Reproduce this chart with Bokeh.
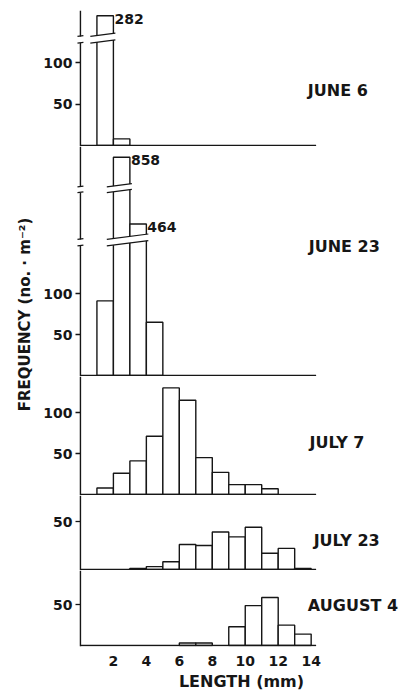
import numpy as np
from bokeh.plotting import figure
from bokeh.models import Range1d, FixedTicker, Label, ColumnDataSource
from bokeh.layouts import row, column
from bokeh.embed import file_html
from bokeh.resources import INLINE
from bokeh.core.properties import value

# ---------------- data ----------------
BIN_LEFT = list(range(0, 14))            # 1-mm length classes (left edges, mm)
DATES = ["JUNE 6", "JUNE 23", "JULY 7", "JULY 23", "AUGUST 4"]
JUNE_6   = [0, 282,   8,   0,  0,   0,   0,  0,  0,  0,  0,  0,  0,  0]
JUNE_23  = [0,  91, 858, 464, 65,   0,   0,  0,  0,  0,  0,  0,  0,  0]
JULY_7   = [0,   8,  26,  41, 71, 130, 115, 45, 27, 12, 12,  7,  0,  0]
JULY_23  = [0,   0,   0,   1,  3,   8,  26, 25, 39, 34, 44, 17, 22,  1]
AUGUST_4 = [0,   0,   0,   0,  0,   0,   3,  3,  0, 23, 49, 59, 25, 14]
SERIES = [JUNE_6, JUNE_23, JULY_7, JULY_23, AUGUST_4]
Y_TICKS = [[50, 100], [50, 100], [50, 100], [50], [50]]
X_TICKS = [2, 4, 6, 8, 10, 12, 14]
X_LABEL = "LENGTH (mm)"
Y_LABEL = "FREQUENCY (no. · m⁻²)"

# broken-axis scales (value knots -> display knots); None = linear
SCALE_KNOTS = [
    ([0, 124, 200, 300], [0, 124, 132, 162.5]),
    ([0, 158, 300, 800, 820, 900], [0, 158, 166, 223, 230, 306]),
    None, None, None,
]
BREAKS = [[(124, 132)], [(158, 166), (223, 230)], [], [], []]
AXIS_TOP = [163, None, None, None, None]

# ---------------- layout / style ----------------
INK = "#161616"
PX_PER_UNIT = [0.826, 0.82, 0.82, 0.96, 0.814]
FRAME_H = [146, 230, 119, 75, 76]
X0 = -0.3
PX_PER_MM = 16.48
FRAME_W = 325
XR = Range1d(X0, X0 + FRAME_W / PX_PER_MM)
LEFT_W = 38          # width of the y-title strip
BORDER_L = 37
XTICK_BORDER = 22
BOTTOM_H = 24
BASE_END = 14.3
LABEL_X = [13.8, 13.85, 13.9, 14.15, 13.8]
LABEL_Y = [56, 130, 53, 30, 41]       # px above frame bottom
SLANT = 0.13
FONT = value("DejaVu Sans")


def disp(vals, knots):
    vals = np.asarray(vals, dtype=float)
    if knots is None:
        return vals
    return np.interp(vals, knots[0], knots[1])


def clean(p):
    p.outline_line_color = None
    p.xgrid.grid_line_color = None
    p.ygrid.grid_line_color = None
    p.background_fill_color = "white"


figs = []
for i, (name, vals) in enumerate(zip(DATES, SERIES)):
    s = PX_PER_UNIT[i]
    H = FRAME_H[i]
    last = i == len(DATES) - 1
    p = figure(frame_width=FRAME_W, frame_height=H, x_range=XR,
               y_range=Range1d(-1.0 / s, (H - 1.0) / s),
               output_backend="svg", toolbar_location=None,
               x_axis_location="below" if last else None,
               min_border_left=BORDER_L, min_border_right=0, min_border_top=0,
               min_border_bottom=XTICK_BORDER if last else 0)
    clean(p)

    yax = p.yaxis[0]
    yax.ticker = FixedTicker(ticks=Y_TICKS[i])
    yax.axis_line_color = None
    yax.major_tick_in = 5
    yax.major_tick_out = 0
    yax.major_tick_line_color = INK
    yax.major_tick_line_width = 1.3
    yax.minor_tick_line_color = None
    yax.major_label_text_font = "DejaVu Sans"
    yax.major_label_text_font_style = "bold"
    yax.major_label_text_font_size = "14px"
    yax.major_label_text_color = INK
    yax.major_label_standoff = 3

    if last:
        xax = p.xaxis[0]
        xax.ticker = FixedTicker(ticks=X_TICKS)
        xax.axis_line_color = None
        xax.major_tick_line_color = None
        xax.minor_tick_line_color = None
        xax.major_label_text_font = "DejaVu Sans"
        xax.major_label_text_font_style = "bold"
        xax.major_label_text_font_size = "14px"
        xax.major_label_text_color = INK
        xax.major_label_standoff = 3

    knots = SCALE_KNOTS[i]
    v = np.asarray(vals, dtype=float)
    left = np.asarray(BIN_LEFT, dtype=float)
    keep = v > 0
    top = disp(v, knots)
    src = ColumnDataSource(dict(left=left[keep], right=left[keep] + 1,
                                top=top[keep], val=v[keep]))
    p.quad(left="left", right="right", bottom=0, top="top", source=src,
           fill_color="white", line_color=INK, line_width=1.4)

    # baseline
    p.segment(x0=[0], y0=[0], x1=[BASE_END], y1=[0], line_color=INK, line_width=1.6)

    # vertical axis line (with breaks)
    y0 = p.y_range.start
    y1 = AXIS_TOP[i] if AXIS_TOP[i] is not None else p.y_range.end
    pieces = []
    cur = y0
    for lo, hi in BREAKS[i]:
        pieces.append((cur, lo))
        cur = hi
    pieces.append((cur, y1))
    p.segment(x0=[0] * len(pieces), y0=[a for a, b in pieces],
              x1=[0] * len(pieces), y1=[b for a, b in pieces],
              line_color=INK, line_width=1.4)

    # break marks
    for lo, hi in BREAKS[i]:
        ax0, ax1 = -0.18, 0.18
        r = SLANT * (ax1 - ax0) * PX_PER_MM / s
        p.segment(x0=[ax0, ax0], y0=[lo, hi], x1=[ax1, ax1], y1=[lo + r, hi + r],
                  line_color=INK, line_width=1.2)
        broken = keep & (top > hi)
        if broken.any():
            bx0 = left[broken].min() - 0.4
            bx1 = left[broken].max() + 1 + 0.12
            r = SLANT * (bx1 - bx0) * PX_PER_MM / s
            p.patch(x=[bx0, bx1, bx1, bx0], y=[lo, lo + r, hi + r, hi],
                    fill_color="white", line_color=None)
            p.segment(x0=[bx0, bx0], y0=[lo, hi], x1=[bx1, bx1], y1=[lo + r, hi + r],
                      line_color=INK, line_width=1.2)

    # value labels for broken bars
    if BREAKS[i]:
        first_hi = BREAKS[i][0][1]
        lab = keep & (top > first_hi)
        lsrc = ColumnDataSource(dict(x=left[lab] + 1, y=top[lab],
                                     text=[str(int(t)) for t in v[lab]]))
        p.text(x="x", y="y", text="text", source=lsrc, x_offset=1, y_offset=-2,
               text_font=FONT, text_font_style="bold", text_font_size="14px",
               text_color=INK, text_align="left", text_baseline="top")

    p.add_layout(Label(x=LABEL_X[i], y=LABEL_Y[i], x_units="data", y_units="screen",
                       text=name, text_font="DejaVu Sans", text_font_style="bold",
                       text_font_size="16px", text_color=INK,
                       text_align="left", text_baseline="middle"))
    figs.append(p)

# x-axis title strip
panel_w = BORDER_L + FRAME_W
bot = figure(width=panel_w, height=BOTTOM_H, output_backend="svg", toolbar_location=None,
             x_axis_location=None, y_axis_location=None,
             x_range=Range1d(0, 1), y_range=Range1d(0, 1),
             min_border_left=0, min_border_right=0, min_border_top=0, min_border_bottom=0)
clean(bot)
bot.add_layout(Label(x=204 - LEFT_W, y=BOTTOM_H - 13, x_units="screen", y_units="screen",
                     text=X_LABEL, text_font="DejaVu Sans", text_font_style="bold",
                     text_font_size="16px", text_color=INK,
                     text_align="center", text_baseline="middle"))

# y-axis title strip
total_h = sum(FRAME_H) + XTICK_BORDER + BOTTOM_H
lab_fig = figure(width=LEFT_W, height=total_h, output_backend="svg", toolbar_location=None,
                 x_axis_location=None, y_axis_location=None,
                 x_range=Range1d(0, 1), y_range=Range1d(0, 1),
                 min_border_left=0, min_border_right=0, min_border_top=0, min_border_bottom=0)
clean(lab_fig)
lab_fig.add_layout(Label(x=24, y=total_h - 314, x_units="screen", y_units="screen",
                         text=Y_LABEL, angle=np.pi / 2, text_font="DejaVu Sans",
                         text_font_style="bold", text_font_size="15px", text_color=INK,
                         text_align="center", text_baseline="middle"))

layout = row(lab_fig, column(*figs, bot, spacing=0), spacing=0)
open("out.html", "w").write(file_html(layout, INLINE))
